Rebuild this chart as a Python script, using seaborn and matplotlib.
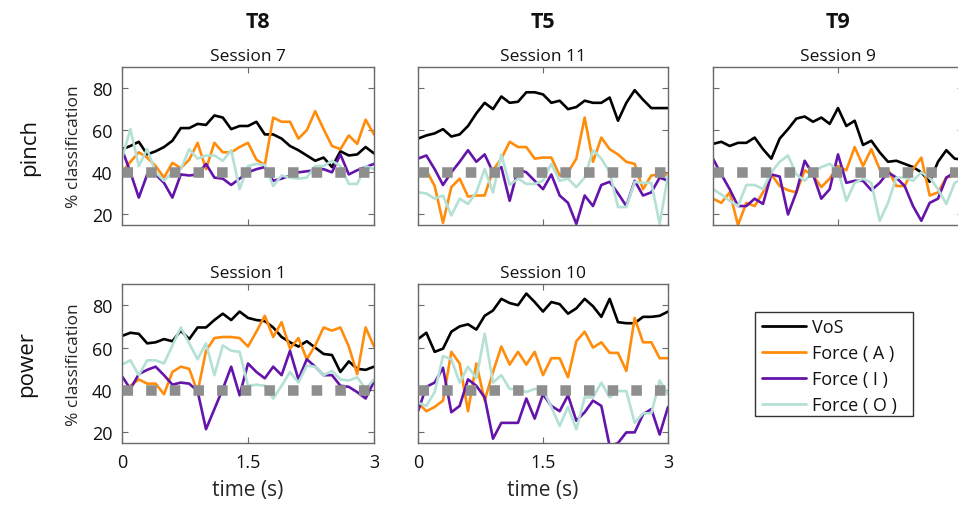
import numpy as np
import pandas as pd
import matplotlib
matplotlib.use("Agg")
import matplotlib.pyplot as plt
from matplotlib.patches import Rectangle
import seaborn as sns

# ---------------- data ----------------
TIME = [0.0, 0.1, 0.2, 0.3, 0.4, 0.5, 0.6, 0.7, 0.8, 0.9, 1.0, 1.1, 1.2, 1.3, 1.4, 1.5,
        1.6, 1.7, 1.8, 1.9, 2.0, 2.1, 2.2, 2.3, 2.4, 2.5, 2.6, 2.7, 2.8, 2.9, 3.0]
SERIES = ["VoS", "Force ( A )", "Force ( I )", "Force ( O )"]
PARTICIPANTS = ["T8", "T5", "T9"]
ROWS = ["pinch", "power"]
SESSIONS = {("pinch", "T8"): "Session 7", ("pinch", "T5"): "Session 11", ("pinch", "T9"): "Session 9",
            ("power", "T8"): "Session 1", ("power", "T5"): "Session 10"}
CHANCE = 40
X_TICKS = [0, 1.5, 3]
X_TICK_LABELS = ["0", "1.5", "3"]
Y_TICKS = [20, 40, 60, 80]

T8_PINCH_VOS = [51, 52.5, 54.5, 48.5, 50, 52, 55, 61, 61, 63, 62.5, 67, 66, 60.5, 62, 62, 64, 58, 58, 56, 52.5, 50.5, 48, 45.5, 47, 42.5, 50, 48, 48.5, 52, 49]
T8_PINCH_A = [40, 45, 49.5, 47, 43, 37.5, 44.5, 42, 46, 54, 41.5, 54, 49.5, 49.5, 52, 54, 46, 43.5, 66, 64, 64, 56, 60, 69, 60.5, 52.5, 51, 57.5, 53.5, 65, 58]
T8_PINCH_I = [51, 40, 28, 39, 39, 35, 28, 39, 38.5, 39, 44, 37.5, 37, 34, 37, 40, 41.5, 42.5, 36, 37, 38.5, 40, 40.5, 41, 41.5, 40, 48.5, 39, 41, 42.5, 44]
T8_PINCH_O = [46.5, 60.5, 43, 51, 40, 36, 40, 41.5, 51, 46.5, 48, 48, 45.5, 50.5, 32, 43, 44, 43.5, 33.5, 38.5, 37.5, 37, 37.5, 43, 43, 45.5, 43, 34.5, 34.5, 43, 41.5]

T5_PINCH_VOS = [56, 57.5, 58.5, 60.5, 57, 58, 62, 68, 73, 70, 76, 73, 73.5, 78, 78, 77, 73, 74, 70, 71, 74, 73, 73, 75.5, 64.5, 73, 79, 74.5, 70.5, 70.5, 70.5]
T5_PINCH_A = [41, 41, 33.5, 16, 33, 37, 28.5, 29, 29, 41, 46.5, 54.5, 52, 52, 46.5, 47, 47, 38.5, 40, 46.5, 66, 45, 56.5, 51, 48.5, 45, 44, 32, 38.5, 39, 39]
T5_PINCH_I = [46.5, 48, 41.5, 34, 40, 45, 50.5, 45, 48.5, 40, 42.5, 26.5, 41.5, 40, 36, 32, 39, 29, 25.5, 15.5, 29, 24, 34, 35.5, 30, 24, 36, 29, 30.5, 37.5, 36]
T5_PINCH_O = [30.5, 30, 27.5, 29, 19.5, 27.5, 25, 30.5, 41.5, 30.5, 48.5, 34, 37, 34.5, 34.5, 36, 44, 36, 37, 33, 37.5, 50.5, 46.5, 40, 23.5, 23.5, 35.5, 35, 35, 15.5, 38.5]

T9_PINCH_VOS = [53.5, 54.5, 52.5, 54, 54, 56.5, 51, 46.5, 56, 60.5, 65.5, 66.5, 64, 66, 63, 70.5, 62, 64.5, 53, 55, 49.5, 45, 45.5, 44, 42.5, 40, 35.5, 45, 50.5, 46.5, 46]
T9_PINCH_A = [27.5, 25.5, 30.5, 15, 25.5, 24, 30.5, 39, 33.5, 31.5, 30.5, 41, 38.5, 33, 37, 43, 41, 52, 43, 51, 41.5, 41.5, 33.5, 33.5, 41.5, 47, 29, 30.5, 37.5, 38.5, 40]
T9_PINCH_I = [46.5, 39, 32, 24, 24, 27.5, 25, 39, 38, 20, 30.5, 45.5, 39, 27.5, 32, 48.5, 35, 36, 36, 31.5, 35, 40, 37.5, 33.5, 24, 17, 25.5, 27.5, 37.5, 40, 41]
T9_PINCH_O = [32, 29.5, 26.5, 24, 34, 34, 32, 40, 45, 48, 39, 36, 40, 42.5, 44, 41, 26.5, 35, 37, 35, 17, 25.5, 37.5, 37.5, 36, 40, 37.5, 32, 25, 35, 37]

T8_POWER_VOS = [65.5, 67, 66.5, 62, 62.5, 64, 63, 68, 64, 69.5, 69.5, 73, 76, 73, 77, 74, 73, 72.5, 69.5, 65, 62.5, 60.5, 63, 60, 57, 56.5, 48.5, 53.5, 50, 49.5, 51]
T8_POWER_A = [40.5, 42, 45, 43, 43, 38, 48.5, 51, 50, 39, 58.5, 64.5, 65, 65, 64.5, 60.5, 67.5, 75, 65, 72, 59.5, 64.5, 54.5, 61, 69.5, 68, 69.5, 60.5, 47.5, 69.5, 60.5]
T8_POWER_I = [46.5, 40.5, 47.5, 49.5, 51, 47, 42.5, 43.5, 43, 39.5, 21.5, 31, 40.5, 51, 37.5, 52.5, 48.5, 45.5, 51, 47, 58.5, 45, 54.5, 51, 47, 47, 42, 41.5, 39, 36, 44]
T8_POWER_O = [52, 54, 47, 54, 54, 52.5, 61, 69.5, 62, 54.5, 62, 47, 61, 58.5, 58, 42, 42.5, 42, 36, 42, 48.5, 43.5, 51.5, 51, 47, 49, 45, 44.5, 46, 40.5, 45]

T5_POWER_VOS = [64, 67, 58, 59.5, 67.5, 70, 71, 68.5, 75, 77.5, 83, 81, 80, 85.5, 81.5, 77, 81.5, 80.5, 76, 78.5, 83, 79.5, 74.5, 83, 72, 71.5, 71.5, 74.5, 74.5, 75, 77]
T5_POWER_A = [34, 30, 32, 35, 58, 52.5, 30, 52.5, 35, 48.5, 60.5, 52, 58, 52, 58, 47, 55, 55, 46, 63, 67.5, 60, 62.5, 57.5, 57.5, 49, 74, 62.5, 62.5, 55, 55]
T5_POWER_I = [30, 41.5, 43.5, 50.5, 29.5, 32.5, 45, 42, 36.5, 17, 24.5, 24.5, 24.5, 36, 26.5, 38, 32.5, 30, 37.5, 25.5, 29.5, 35, 32.5, 13.5, 15, 20, 20, 28.5, 31, 19, 32]
T5_POWER_O = [34, 32.5, 39, 56, 54.5, 43.5, 51, 45.5, 66.5, 43.5, 47, 40.5, 40.5, 39, 40.5, 40.5, 32, 23, 32, 21.5, 36.5, 36.5, 43.5, 36.5, 39.5, 39.5, 24.5, 29, 29, 44.5, 38]

PANELS = {
    ("pinch", "T8"): [T8_PINCH_VOS, T8_PINCH_A, T8_PINCH_I, T8_PINCH_O],
    ("pinch", "T5"): [T5_PINCH_VOS, T5_PINCH_A, T5_PINCH_I, T5_PINCH_O],
    ("pinch", "T9"): [T9_PINCH_VOS, T9_PINCH_A, T9_PINCH_I, T9_PINCH_O],
    ("power", "T8"): [T8_POWER_VOS, T8_POWER_A, T8_POWER_I, T8_POWER_O],
    ("power", "T5"): [T5_POWER_VOS, T5_POWER_A, T5_POWER_I, T5_POWER_O],
}

COLORS = ["#000000", "#FF8C0A", "#6414AA", "#B4E0D6"]
CHANCE_COLOR = "#8E8E8E"
SPINE_COLOR = "#6A6A6A"

# ---------------- style ----------------
sns.set_theme(style="white")
plt.rcParams["font.family"] = ["Open Sans", "DejaVu Sans"]
plt.rcParams["text.color"] = "#111111"

W, H = 958, 506
fig = plt.figure(figsize=(W / 100, H / 100), dpi=100)

col_left = {"T8": 122, "T5": 418, "T9": 713}
col_width = {"T8": 252, "T5": 250, "T9": 250}
row_top = {"pinch": 68, "power": 285}
row_h = {"pinch": 158, "power": 159}

palette = dict(zip(SERIES, COLORS))
handles = None
for (row, part), vals in PANELS.items():
    l, w = col_left[part], col_width[part]
    t, h = row_top[row], row_h[row]
    ax = fig.add_axes([l / W, 1 - (t + h) / H, w / W, h / H])
    df = pd.DataFrame({
        "time": TIME * len(SERIES),
        "value": [v for s in vals for v in s],
        "series": [name for name in SERIES for _ in TIME],
    })
    sns.lineplot(data=df, x="time", y="value", hue="series", palette=palette,
                 hue_order=SERIES, linewidth=1.9, ax=ax, legend=True)
    if handles is None:
        handles, labels = ax.get_legend_handles_labels()
    ax.get_legend().remove()
    ax.plot([TIME[0], TIME[-1]], [CHANCE, CHANCE], color=CHANCE_COLOR,
            linewidth=7.6, linestyle=(0, (1.0, 1.24)), solid_capstyle="butt",
            dash_capstyle="butt", zorder=5)
    ax.set_xlim(0, 3)
    ax.set_ylim(15, 90)
    ax.set_xticks(X_TICKS)
    ax.set_yticks(Y_TICKS)
    ax.tick_params(direction="in", length=4, width=0.8, color=SPINE_COLOR,
                   top=True, right=True, bottom=True, left=True,
                   labelsize=13, pad=7, labelcolor="#111111")
    for sp in ax.spines.values():
        sp.set_color(SPINE_COLOR)
        sp.set_linewidth(1.0)
        sp.set_visible(True)
    ax.set_title(SESSIONS[(row, part)], fontsize=12.5, pad=5)
    ax.set_xlabel("")
    ax.set_ylabel("")
    if row == "power":
        ax.set_xticklabels(X_TICK_LABELS)
        ax.set_xlabel("time (s)", fontsize=15, labelpad=6)
    else:
        ax.set_xticklabels([])
    if part == "T8":
        ax.set_ylabel("% classification", fontsize=12.5, labelpad=7)
    else:
        ax.set_yticklabels([])

# column headers
header_x = {"T8": 258, "T5": 543, "T9": 838}
for part in PARTICIPANTS:
    fig.text(header_x[part] / W, 1 - 22 / H, part, ha="center", va="center",
             fontsize=15.5, fontweight="bold")

# row labels
row_label_x = {"pinch": 30, "power": 27}
for row in ROWS:
    yc = row_top[row] + row_h[row] / 2
    fig.text(row_label_x[row] / W, 1 - yc / H, row, rotation=90, ha="center",
             va="center", fontsize=16)

# legend (frame drawn separately to match the reference box)
leg = fig.legend(handles, labels, loc="upper left",
                 bbox_to_anchor=(762 / W, 1 - 319 / H), borderaxespad=0,
                 frameon=False, fontsize=13,
                 handlelength=2.45, handletextpad=0.3, labelspacing=0.44,
                 borderpad=0.0)
for line in leg.get_lines():
    line.set_linewidth(2.0)
fig.patches.append(Rectangle((755 / W, 1 - 417 / H), (913 - 755) / W, (417 - 313) / H,
                             transform=fig.transFigure, fill=False,
                             edgecolor="#333333", linewidth=1.0))

fig.savefig("out.png", dpi=100)
